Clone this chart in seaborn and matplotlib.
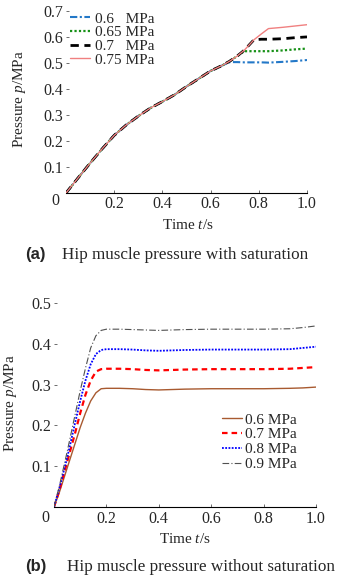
import matplotlib
matplotlib.use("Agg")
import matplotlib.pyplot as plt
import seaborn as sns

# (a) hip muscle pressure with saturation
t_sat = [0, 0.05, 0.1, 0.15, 0.2, 0.25, 0.3, 0.35, 0.4, 0.45, 0.5, 0.55, 0.6, 0.65,
         0.68, 0.71, 0.74, 0.78, 0.81, 0.84, 0.9, 0.95, 1.0]
rise = [0, 0.058, 0.115, 0.17, 0.222, 0.262, 0.296, 0.327, 0.352, 0.378, 0.41, 0.44, 0.47, 0.492]
p_06 = rise + [0.504, 0.504, 0.503, 0.503, 0.503, 0.502, 0.505, 0.508, 0.512]
p_065 = rise + [0.508, 0.527, 0.546, 0.546, 0.546, 0.546, 0.549, 0.553, 0.556]
p_07 = rise + [0.508, 0.527, 0.55, 0.59, 0.592, 0.592, 0.594, 0.598, 0.601]
p_075 = rise + [0.508, 0.527, 0.55, 0.59, 0.612, 0.633, 0.638, 0.643, 0.648]
labels_sat = ["0.6   MPa", "0.65 MPa", "0.7   MPa", "0.75 MPa"]

# (b) hip muscle pressure without saturation
t_free = [0, 0.02, 0.05, 0.08, 0.1, 0.12, 0.14, 0.16, 0.18, 0.2, 0.25, 0.3, 0.35, 0.4,
          0.45, 0.5, 0.6, 0.7, 0.8, 0.9, 0.95, 1.0]
q_06 = [0, 0.035, 0.095, 0.155, 0.195, 0.23, 0.26, 0.28, 0.29, 0.291, 0.291, 0.29, 0.288,
        0.287, 0.288, 0.289, 0.29, 0.29, 0.29, 0.291, 0.292, 0.294]
q_07 = [0, 0.04, 0.11, 0.18, 0.23, 0.275, 0.31, 0.332, 0.338, 0.339, 0.339, 0.338, 0.336,
        0.335, 0.336, 0.337, 0.338, 0.338, 0.338, 0.339, 0.341, 0.343]
q_08 = [0, 0.045, 0.12, 0.205, 0.26, 0.31, 0.35, 0.375, 0.385, 0.387, 0.387, 0.386, 0.384,
        0.383, 0.384, 0.385, 0.386, 0.386, 0.386, 0.387, 0.39, 0.393]
q_09 = [0, 0.05, 0.135, 0.225, 0.285, 0.34, 0.39, 0.42, 0.433, 0.436, 0.436, 0.435, 0.434,
        0.433, 0.434, 0.435, 0.436, 0.436, 0.436, 0.437, 0.44, 0.444]
labels_free = ["0.6 MPa", "0.7 MPa", "0.8 MPa", "0.9 MPa"]

sns.set_theme(style="white")
plt.rcParams['font.family'] = ['Liberation Serif', 'DejaVu Serif']
plt.rcParams['mathtext.fontset'] = 'custom'
plt.rcParams['mathtext.rm'] = 'Liberation Serif'
plt.rcParams['mathtext.it'] = 'Liberation Serif:italic'

W, H = 338, 581
fig = plt.figure(figsize=(W / 100, H / 100), dpi=100)


def px_axes(left, right, bottom, top):
    return fig.add_axes([left / W, (H - bottom) / H, (right - left) / W, (bottom - top) / H])


def style_axes(ax, ymax, yticks, xpad):
    ax.set_xlim(0, 1)
    ax.set_ylim(0, ymax)
    for s in ['left', 'top', 'right']:
        ax.spines[s].set_visible(False)
    ax.spines['bottom'].set_color('black')
    ax.spines['bottom'].set_linewidth(0.8)
    ax.set_xticks([0.2, 0.4, 0.6, 0.8, 1.0])
    ax.set_xticklabels(['0.2', '0.4', '0.6', '0.8', '1.0'])
    ax.set_yticks(yticks)
    ax.set_yticklabels([f"{v:.1f}" for v in yticks])
    ax.tick_params(axis='both', direction='in', length=2, width=0.6, color='#555555',
                   labelsize=11.5, left=True, bottom=True)
    ax.tick_params(axis='y', pad=2)
    ax.tick_params(axis='x', pad=xpad)
    ax.set_xlabel('Time $t$/s', fontsize=11)
    ax.set_ylabel('Pressure $p$/MPa', fontsize=11)


# ---- panel (a)
ax1 = px_axes(66, 307, 193, 6)
sat_series = [
    (p_06, '#2378c8', (0, (3.5, 1.2, 1, 1.2)), 1.5),
    (p_065, '#169016', (0, (1, 1)), 1.6),
    (p_07, 'black', (0, (3, 2)), 2.0),
    (p_075, '#f08080', '-', 1.0),
]
for (vals, col, ls, lw), lab in zip(sat_series, labels_sat):
    sns.lineplot(x=t_sat, y=vals, ax=ax1, color=col, linestyle=ls, linewidth=lw, label=lab)
style_axes(ax1, 0.72, [0.1, 0.2, 0.3, 0.4, 0.5, 0.6, 0.7], 2)
ax1.annotate('0', xy=(0, 0), xytext=(-11, -8), textcoords='offset pixels',
             ha='center', va='center', fontsize=11.5)
ax1.xaxis.set_label_coords(0.506, -0.136)
ax1.yaxis.set_label_coords(-0.156, 0.5)
ax1.legend(loc='upper left', bbox_to_anchor=(70 / W, (H - 12) / H), bbox_transform=fig.transFigure,
           frameon=False, fontsize=11, handlelength=1.3, handletextpad=0.33,
           labelspacing=0.0, borderpad=0, borderaxespad=0)

# ---- panel (b)
ax2 = px_axes(54, 316, 507, 299)
free_series = [
    (q_06, '#a85a30', '-', 1.0),
    (q_07, '#ff0000', (0, (2.5, 1.8)), 1.6),
    (q_08, '#0000ff', (0, (1, 0.8)), 1.3),
    (q_09, '#505050', (0, (6, 2, 1, 2)), 0.8),
]
for (vals, col, ls, lw), lab in zip(free_series, labels_free):
    sns.lineplot(x=t_free, y=vals, ax=ax2, color=col, linestyle=ls, linewidth=lw, label=lab)
style_axes(ax2, 0.51, [0.1, 0.2, 0.3, 0.4, 0.5], 3)
ax2.annotate('0', xy=(0, 0), xytext=(-9, -11), textcoords='offset pixels',
             ha='center', va='center', fontsize=11.5)
ax2.xaxis.set_label_coords(0.5, -0.12)
ax2.yaxis.set_label_coords(-0.135, 0.5)
ax2.legend(loc='upper left', bbox_to_anchor=(222 / W, (H - 413) / H), bbox_transform=fig.transFigure,
           frameon=False, fontsize=11, handlelength=1.3, handletextpad=0.2,
           labelspacing=0.07, borderpad=0, borderaxespad=0)

# ---- captions
fig.text(25 / W, 1 - 255 / H, '(a)', family='Liberation Sans', weight='bold', fontsize=12,
         ha='left', va='center')
fig.text(62 / W, 1 - 255 / H, 'Hip muscle pressure with saturation', fontsize=12.3,
         ha='left', va='center')
fig.text(25 / W, 1 - 567 / H, '(b)', family='Liberation Sans', weight='bold', fontsize=12,
         ha='left', va='center')
fig.text(67 / W, 1 - 567 / H, 'Hip muscle pressure without saturation', fontsize=12.3,
         ha='left', va='center')

fig.savefig('out.png', dpi=100)
